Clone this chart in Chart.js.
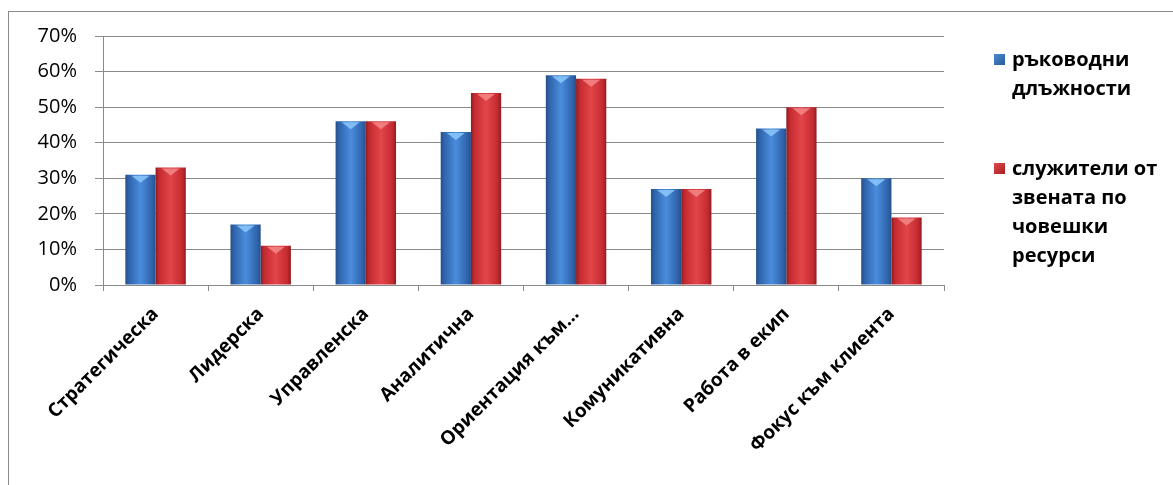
<!DOCTYPE html>
<html>
<head>
<meta charset="utf-8">
<script src="https://cdn.jsdelivr.net/npm/chart.js@4"></script>
<style>
  html, body { margin: 0; padding: 0; background: #fff; }
  #wrap { width: 1173px; height: 485px; position: relative; }
</style>
</head>
<body>
<div id="wrap"><canvas id="c" width="1173" height="485"></canvas></div>
<script>
const categories = ['Стратегическа', 'Лидерска', 'Управленска', 'Аналитична', 'Ориентация към...', 'Комуникативна', 'Работа в екип', 'Фокус към клиента'];
const managers = [31, 17, 46, 43, 59, 27, 44, 30];
const hrStaff = [33, 11, 46, 54, 58, 27, 50, 19];
const legendManagers = ['ръководни', 'длъжности'];
const legendHR = ['служители от', 'звената по', 'човешки', 'ресурси'];
const yTicks = [0, 10, 20, 30, 40, 50, 60, 70];

const CAT_PCT = 0.575;
const FONT = "'Open Sans', 'DejaVu Sans', sans-serif";

function barGradient(ctx, dsIndex, dark, light, edge) {
  const chart = ctx.chart;
  const xs = chart.scales && chart.scales.x;
  if (!xs || !chart.chartArea || ctx.dataIndex === undefined) return light;
  const center = xs.getPixelForValue(ctx.dataIndex);
  const cw = xs.width / categories.length;
  const gw = cw * CAT_PCT;
  const left = dsIndex === 0 ? center - gw / 2 : center;
  const right = left + gw / 2;
  const g = chart.ctx.createLinearGradient(left, 0, right, 0);
  g.addColorStop(0, edge);
  g.addColorStop(0.12, dark);
  g.addColorStop(0.5, light);
  g.addColorStop(0.88, dark);
  g.addColorStop(1, edge);
  return g;
}

const frame = {
  id: 'frame',
  beforeDraw(chart) {
    const c = chart.ctx;
    c.save();
    c.fillStyle = '#fff';
    c.fillRect(0, 0, chart.width, chart.height);
    c.strokeStyle = '#8a8a8a';
    c.lineWidth = 1;
    c.strokeRect(8.5, 11.5, 1300, 600);
    c.restore();
  }
};

const highlights = {
  id: 'highlights',
  afterDatasetsDraw(chart) {
    const c = chart.ctx;
    const cols = ['rgba(140,200,250,0.85)', 'rgba(245,140,140,0.8)'];
    chart.data.datasets.forEach((ds, di) => {
      const meta = chart.getDatasetMeta(di);
      meta.data.forEach(bar => {
        const w = bar.width;
        c.save();
        c.fillStyle = cols[di];
        c.beginPath();
        c.moveTo(bar.x - w * 0.3, bar.y + 1);
        c.lineTo(bar.x + w * 0.3, bar.y + 1);
        c.lineTo(bar.x, bar.y + 8);
        c.closePath();
        c.fill();
        c.restore();
      });
    });
  }
};

const sideLegend = {
  id: 'sideLegend',
  afterDraw(chart) {
    const c = chart.ctx;
    const items = [
      { lines: legendManagers, top: 54, grad: ['#2c5a98', '#4a8bd6'] },
      { lines: legendHR, top: 163, grad: ['#a62024', '#e2474a'] }
    ];
    c.save();
    c.font = "bold 20px " + FONT;
    c.textBaseline = 'alphabetic';
    c.fillStyle = '#000';
    items.forEach(it => {
      const g = c.createLinearGradient(994, it.top, 1005, it.top + 11);
      g.addColorStop(0, it.grad[1]);
      g.addColorStop(1, it.grad[0]);
      c.fillStyle = g;
      c.fillRect(994, it.top, 11, 11);
      c.fillStyle = '#000';
      it.lines.forEach((ln, k) => {
        c.fillText(ln, 1012, it.top + 12 + k * 29);
      });
    });
    c.restore();
  }
};

new Chart(document.getElementById('c'), {
  type: 'bar',
  data: {
    labels: categories,
    datasets: [
      {
        label: legendManagers.join(' '),
        data: managers,
        backgroundColor: ctx => barGradient(ctx, 0, '#2f64ac', '#4a8ddc', '#264f88'),
        borderWidth: 0,
        categoryPercentage: CAT_PCT,
        barPercentage: 1.0
      },
      {
        label: legendHR.join(' '),
        data: hrStaff,
        backgroundColor: ctx => barGradient(ctx, 1, '#c42b30', '#e2454a', '#8e1c1f'),
        borderWidth: 0,
        categoryPercentage: CAT_PCT,
        barPercentage: 1.0
      }
    ]
  },
  options: {
    responsive: false,
    animation: false,
    devicePixelRatio: 1,
    layout: { padding: { left: 0, right: 229, top: 36, bottom: 0 } },
    plugins: {
      legend: { display: false },
      tooltip: { enabled: false }
    },
    scales: {
      x: {
        grid: {
          display: true,
          drawOnChartArea: false,
          drawTicks: true,
          tickLength: 6,
          color: '#8a8a8a',
          offset: true
        },
        border: { color: '#8a8a8a', width: 1 },
        ticks: {
          color: '#000',
          font: { family: FONT, size: 19, weight: 'bold' },
          minRotation: 45,
          maxRotation: 45,
          autoSkip: false,
          padding: 12,
          labelOffset: 0
        },
        afterFit(s) { s.height = 200; }
      },
      y: {
        min: 0,
        max: 70,
        afterBuildTicks(s) { s.ticks = yTicks.map(v => ({ value: v })); },
        grid: {
          color: '#8a8a8a',
          lineWidth: 1,
          tickLength: 8,
          drawTicks: true
        },
        border: { color: '#8a8a8a', width: 1 },
        ticks: {
          color: '#000',
          font: { family: FONT, size: 20 },
          padding: 18,
          callback: v => v + '%'
        },
        afterFit(s) { s.width = 103; }
      }
    }
  },
  plugins: [frame, highlights, sideLegend]
});
</script>
</body>
</html>
